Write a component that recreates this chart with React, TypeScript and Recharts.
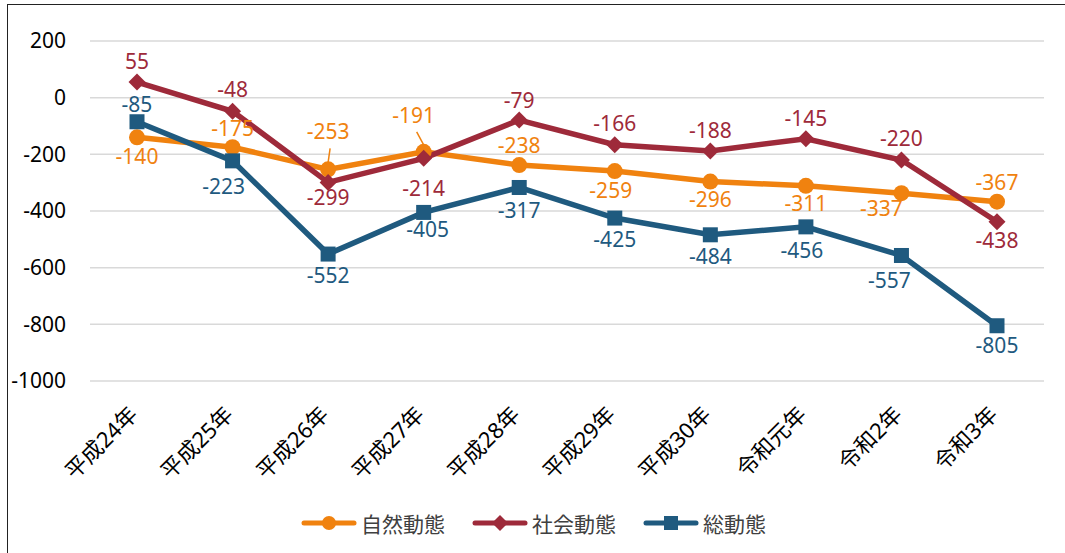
import React from 'react';
import { CartesianGrid, LabelList, Legend, Line, LineChart, XAxis, YAxis } from 'recharts';

const years = ['平成24年', '平成25年', '平成26年', '平成27年', '平成28年', '平成29年', '平成30年', '令和元年', '令和2年', '令和3年'];
const natural = [-140, -175, -253, -191, -238, -259, -296, -311, -337, -367];
const social = [55, -48, -299, -214, -79, -166, -188, -145, -220, -438];
const total = [-85, -223, -552, -405, -317, -425, -484, -456, -557, -805];
const yTicks = [200, 0, -200, -400, -600, -800, -1000];

const ORANGE = '#F0820F';
const RED = '#9E2A3A';
const BLUE = '#1F5A7F';
const FONT = '"Noto Sans", "Noto Sans CJK JP", sans-serif';

// label offsets [dx, dy] from the point to the label centre
const naturalLabel = [[0, 20], [0, -18], [0, -37], [-10, -36], [0, -19], [-4, 20], [0, 18], [0, 18], [-20, 16], [0, -19]];
const socialLabel = [[0, -20], [0, -21], [0, 16], [0, 31], [0, -19], [0, -21], [0, -20], [0, -20], [0, -21], [0, 19]];
const totalLabel = [[0, -17], [-9, 26], [0, 22], [4, 18], [0, 24], [0, 22], [0, 22], [-4, 24], [-12, 26], [0, 20]];
const leaders = new Set([2, 3]);

const data = years.map((year, i) => ({
  year,
  natural: natural[i],
  social: social[i],
  total: total[i],
}));

function makeLabel(color: string, offsets: number[][], withLeader = false) {
  return (props: any) => {
    const { x, y, value, index } = props;
    const [dx, dy] = offsets[index] ?? [0, -20];
    const cx = x + dx;
    const cy = y + dy;
    return (
      <g>
        {withLeader && leaders.has(index) && (
          <line x1={cx + (dx ? 3 : 2)} y1={cy + 16} x2={x} y2={y - 7} stroke={color} strokeWidth={1.5} />
        )}
        <text x={cx} y={cy + 7} textAnchor="middle" fill={color} fontSize={21} fontFamily={FONT}>
          {value}
        </text>
      </g>
    );
  };
}

function Diamond(props: any) {
  const { cx, cy } = props;
  if (cx == null || cy == null) return null;
  const r = 8.5;
  return <path d={`M${cx},${cy - r}L${cx + r},${cy}L${cx},${cy + r}L${cx - r},${cy}Z`} fill={RED} />;
}

function Square(props: any) {
  const { cx, cy } = props;
  if (cx == null || cy == null) return null;
  return <rect x={cx - 7.5} y={cy - 7.5} width={15} height={15} fill={BLUE} />;
}

function Circle(props: any) {
  const { cx, cy } = props;
  if (cx == null || cy == null) return null;
  return <circle cx={cx} cy={cy} r={8} fill={ORANGE} />;
}

function XTick(props: any) {
  const { x, y, payload } = props;
  const ax = x + 2;
  const ay = y + 27;
  return (
    <text
      x={ax}
      y={ay}
      transform={`rotate(-45, ${ax}, ${ay})`}
      textAnchor="end"
      fontSize={22}
      fontFamily={FONT}
      fill="#000"
    >
      {payload.value}
    </text>
  );
}

const legendItems = [
  { label: '自然動態', color: ORANGE, marker: 'circle' },
  { label: '社会動態', color: RED, marker: 'diamond' },
  { label: '総動態', color: BLUE, marker: 'square' },
];

function ChartLegend() {
  return (
    <div style={{ display: 'flex', justifyContent: 'center', alignItems: 'center', height: 60, gap: 26, paddingLeft: 22, fontFamily: FONT, fontSize: 21, color: '#404040' }}>
      {legendItems.map(item => (
        <div key={item.label} style={{ display: 'flex', alignItems: 'center', gap: 3 }}>
          <svg width={58} height={20}>
            <line x1={4} y1={10} x2={54} y2={10} stroke={item.color} strokeWidth={5} strokeLinecap="round" />
            {item.marker === 'circle' && <circle cx={29} cy={10} r={7} fill={item.color} />}
            {item.marker === 'diamond' && <path d="M29,2L37,10L29,18L21,10Z" fill={item.color} />}
            {item.marker === 'square' && <rect x={22} y={3} width={14} height={14} fill={item.color} />}
          </svg>
          <span>{item.label}</span>
        </div>
      ))}
    </div>
  );
}

export default function App() {
  return (
    <div style={{ position: 'absolute', left: 0, top: 0, width: 1065, height: 553, background: '#fff', overflow: 'hidden' }}>
      <div style={{ position: 'absolute', left: 7, top: 4, width: 1100, height: 600, borderLeft: '1.5px solid #222', borderTop: '1.5px solid #222' }} />
      <LineChart width={1065} height={553} data={data} margin={{ top: 41, right: 21, left: 0, bottom: 0 }}>
        <CartesianGrid vertical={false} stroke="#d9d9d9" strokeWidth={1.5} />
        <XAxis
          dataKey="year"
          axisLine={false}
          tickLine={false}
          tick={<XTick />}
          height={112}
          interval={0}
          padding={{ left: 47, right: 47 }}
        />
        <YAxis
          domain={[-1000, 200]}
          ticks={yTicks}
          axisLine={false}
          tickLine={false}
          tickSize={0}
          tickMargin={24}
          width={90}
          tick={{ fontSize: 21, fontFamily: FONT, fill: '#000' }}
        />
        <Legend verticalAlign="bottom" height={60} content={<ChartLegend />} wrapperStyle={{ height: 60 }} />
        <Line dataKey="natural" name="自然動態" stroke={ORANGE} strokeWidth={5.5} dot={<Circle />} isAnimationActive={false}>
          <LabelList dataKey="natural" content={makeLabel(ORANGE, naturalLabel, true)} />
        </Line>
        <Line dataKey="social" name="社会動態" stroke={RED} strokeWidth={5.5} dot={<Diamond />} isAnimationActive={false}>
          <LabelList dataKey="social" content={makeLabel(RED, socialLabel)} />
        </Line>
        <Line dataKey="total" name="総動態" stroke={BLUE} strokeWidth={5.5} dot={<Square />} isAnimationActive={false}>
          <LabelList dataKey="total" content={makeLabel(BLUE, totalLabel)} />
        </Line>
      </LineChart>
    </div>
  );
}
